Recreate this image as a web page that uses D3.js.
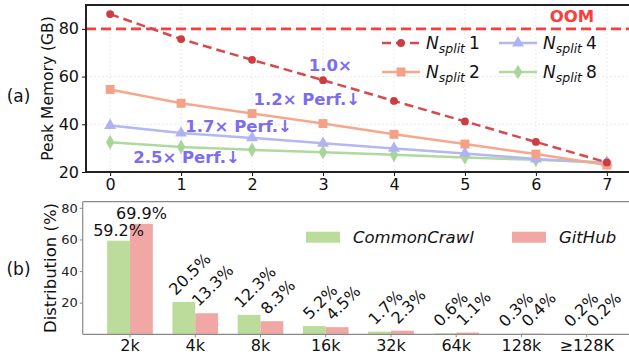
<!DOCTYPE html>
<html>
<head>
<meta charset="utf-8">
<script src="https://cdn.jsdelivr.net/npm/d3@7"></script>
<style>
  body { margin: 0; background: #fff; }
  svg { display: block; font-family: "DejaVu Sans", sans-serif; }
</style>
</head>
<body>
<div id="chart"></div>
<script>
var svgWidth = 629;
var svgHeight = 360;

// (a) peak memory vs. step
var steps = [0, 1, 2, 3, 4, 5, 6, 7];
var nsplit1 = [86.2, 75.7, 67.0, 58.5, 49.8, 41.2, 32.6, 24.0];
var nsplit2 = [54.6, 48.8, 44.5, 40.3, 35.8, 31.7, 27.5, 22.9];
var nsplit4 = [39.5, 36.3, 34.3, 32.0, 29.9, 27.8, 25.4, 23.8];
var nsplit8 = [32.5, 30.5, 29.3, 28.3, 27.2, 26.1, 25.1, 24.0];
var oomLimit = 80;
var memTicks = [20, 40, 60, 80];
var perfLabels = ["1.0×", "1.2× Perf.↓", "1.7× Perf.↓", "2.5× Perf.↓"];

// (b) length distribution
var lengthBins = ["2k", "4k", "8k", "16k", "32k", "64k", "128k", "≥128K"];
var commonCrawl = [59.2, 20.5, 12.3, 5.2, 1.7, 0.6, 0.3, 0.2];
var github = [69.9, 13.3, 8.3, 4.5, 2.3, 1.1, 0.4, 0.2];
var distTicks = [20, 40, 60, 80];

var svg = d3.select("#chart").append("svg")
  .attr("width", svgWidth)
  .attr("height", svgHeight);

// ---------- top panel ----------
var panelA = {left: 86, right: 631, top: 5, bottom: 172};

var x = d3.scaleLinear().domain([-0.34, 7.34]).range([panelA.left, panelA.right]);
var y = d3.scaleLinear().domain([20, 90]).range([panelA.bottom, panelA.top]);

var gTop = svg.append("g");

// grid
gTop.selectAll(".vgrid").data(steps).enter().append("line")
  .attr("x1", d => x(d)).attr("x2", d => x(d))
  .attr("y1", panelA.top).attr("y2", panelA.bottom)
  .attr("stroke", "#e4e4e4").attr("stroke-width", 0.8).attr("stroke-dasharray", "2,2");
gTop.selectAll(".hgrid").data(memTicks).enter().append("line")
  .attr("x1", panelA.left).attr("x2", panelA.right)
  .attr("y1", d => y(d)).attr("y2", d => y(d))
  .attr("stroke", "#e4e4e4").attr("stroke-width", 0.8).attr("stroke-dasharray", "2,2");

// axes
var xAxisTop = gTop.append("g")
  .attr("transform", `translate(0, ${panelA.bottom})`)
  .call(d3.axisBottom(x).tickValues(steps).tickSize(4).tickPadding(3).tickFormat(d3.format("d")));
var yAxisTop = gTop.append("g")
  .attr("transform", `translate(${panelA.left}, 0)`)
  .call(d3.axisLeft(y).tickValues(memTicks).tickSize(4).tickPadding(3));
[xAxisTop, yAxisTop].forEach(function(a) {
  a.select(".domain").remove();
  a.selectAll("text").attr("font-size", "16px").attr("fill", "#111").attr("font-family", "DejaVu Sans");
  a.selectAll("line").attr("stroke", "#111");
});

// OOM line
gTop.append("line")
  .attr("x1", panelA.left).attr("x2", panelA.right)
  .attr("y1", y(oomLimit)).attr("y2", y(oomLimit))
  .attr("stroke", "#ff3b3b").attr("stroke-width", 2.6).attr("stroke-dasharray", "10,5");
gTop.append("text")
  .attr("x", 572).attr("y", 16.5)
  .attr("dominant-baseline", "central").attr("text-anchor", "middle")
  .attr("font-size", "16.5px").attr("font-weight", "bold").attr("fill", "#ff3b3b")
  .text("OOM");

var series = [
  {name: "1", values: nsplit1, color: "#d64a4f", marker: "#cc3d42", shape: d3.symbolCircle, size: 48, dash: "9,5"},
  {name: "2", values: nsplit2, color: "#f6a88e", marker: "#f4a287", shape: d3.symbolSquare, size: 80, dash: null},
  {name: "4", values: nsplit4, color: "#b4b7f2", marker: "#b0b3f1", shape: d3.symbolTriangle, size: 62, dash: null},
  {name: "8", values: nsplit8, color: "#afd99e", marker: "#a9d698", shape: d3.symbolDiamond, size: 62, dash: null}
];

var line = d3.line().x((d, i) => x(steps[i])).y(d => y(d));

series.slice().reverse().forEach(function(s) {
  gTop.append("path")
    .datum(s.values)
    .attr("d", line)
    .attr("fill", "none")
    .attr("stroke", s.color)
    .attr("stroke-width", 2.5)
    .attr("stroke-dasharray", s.dash);
  gTop.selectAll(null).data(s.values).enter().append("path")
    .attr("transform", (d, i) => `translate(${x(steps[i])}, ${y(d)})`)
    .attr("d", d3.symbol().type(s.shape).size(s.size))
    .attr("fill", s.marker);
});

// frame
gTop.append("rect")
  .attr("x", panelA.left).attr("y", panelA.top)
  .attr("width", panelA.right - panelA.left).attr("height", panelA.bottom - panelA.top)
  .attr("fill", "none").attr("stroke", "#222").attr("stroke-width", 2);

// perf annotations
var perfPos = [[2.80, 64.5], [2.02, 50.2], [1.06, 39.0], [0.325, 26.0]];
gTop.selectAll(".perf").data(perfLabels).enter().append("text")
  .attr("x", (d, i) => x(perfPos[i][0]))
  .attr("y", (d, i) => y(perfPos[i][1]))
  .attr("dominant-baseline", "central")
  .attr("font-size", "16.5px").attr("font-weight", "bold")
  .attr("fill", "#7b6cf0")
  .text(d => d);

// legend
var legendItems = [
  {s: series[0], lx: 382, ly: 43},
  {s: series[1], lx: 382, ly: 72},
  {s: series[2], lx: 499, ly: 43},
  {s: series[3], lx: 499, ly: 72}
];
legendItems.forEach(function(it) {
  var g = gTop.append("g");
  g.append("line")
    .attr("x1", it.lx).attr("x2", it.lx + 38)
    .attr("y1", it.ly).attr("y2", it.ly)
    .attr("stroke", it.s.color).attr("stroke-width", 2.5)
    .attr("stroke-dasharray", it.s.dash);
  g.append("path")
    .attr("transform", `translate(${it.lx + 19}, ${it.ly})`)
    .attr("d", d3.symbol().type(it.s.shape).size(it.s.size))
    .attr("fill", it.s.marker);
  var t = g.append("text")
    .attr("x", it.lx + 44).attr("y", it.ly + 6)
    .attr("font-size", "17px").attr("fill", "#111");
  t.append("tspan").attr("font-style", "italic").text("N");
  t.append("tspan").attr("font-style", "italic").attr("font-size", "12.5px").attr("dy", 4).text("split");
  t.append("tspan").attr("dy", -4).attr("dx", 4).text(it.s.name);
});

// ---------- bottom panel ----------
var panelB = {left: 82.7, right: 634, top: 201.7, bottom: 334.3};

var xb = d3.scaleBand().domain(lengthBins).range([panelB.left, panelB.right])
  .paddingInner(0.3).paddingOuter(0.375);
var xs = d3.scaleBand().domain(["cc", "gh"]).range([0, xb.bandwidth()]);
var yb = d3.scaleLinear().domain([0, d3.max(github) * 1.2]).range([panelB.bottom, panelB.top]);

var gBot = svg.append("g");
var barColors = {cc: "#bbdc9a", gh: "#f1a8a4"};

var barData = [];
lengthBins.forEach(function(b, i) {
  barData.push({bin: b, key: "cc", value: commonCrawl[i], idx: i});
  barData.push({bin: b, key: "gh", value: github[i], idx: i});
});

gBot.selectAll(".bar").data(barData).enter().append("rect")
  .attr("x", d => xb(d.bin) + xs(d.key))
  .attr("width", xs.bandwidth())
  .attr("y", d => yb(d.value))
  .attr("height", d => yb(0) - yb(d.value))
  .attr("fill", d => barColors[d.key]);

// axes frame (gray)
gBot.append("line").attr("x1", panelB.left).attr("x2", panelB.right).attr("y1", panelB.top).attr("y2", panelB.top)
  .attr("stroke", "#8a8a8a").attr("stroke-width", 1.2);
gBot.append("line").attr("x1", panelB.left).attr("x2", panelB.right).attr("y1", panelB.bottom).attr("y2", panelB.bottom)
  .attr("stroke", "#8a8a8a").attr("stroke-width", 1.2);
gBot.append("line").attr("x1", panelB.left).attr("x2", panelB.left).attr("y1", panelB.top).attr("y2", panelB.bottom)
  .attr("stroke", "#8a8a8a").attr("stroke-width", 1.2);

var xAxisBot = gBot.append("g")
  .attr("transform", `translate(0, ${panelB.bottom})`)
  .call(d3.axisBottom(xb).tickSize(3).tickPadding(2));
var yAxisBot = gBot.append("g")
  .attr("transform", `translate(${panelB.left}, 0)`)
  .call(d3.axisLeft(yb).tickValues(distTicks).tickSize(3).tickPadding(2));
xAxisBot.select(".domain").remove();
yAxisBot.select(".domain").remove();
xAxisBot.selectAll("text").attr("font-size", "16px").attr("fill", "#111").attr("font-family", "DejaVu Sans");
yAxisBot.selectAll("text").attr("font-size", "13px").attr("fill", "#222").attr("font-family", "DejaVu Sans");
xAxisBot.selectAll("line").attr("stroke", "#8a8a8a");
yAxisBot.selectAll("line").attr("stroke", "#8a8a8a");

// value labels
var fmt = d => d.toFixed(1) + "%";
barData.forEach(function(d) {
  var cx = xb(d.bin) + xs(d.key) + xs.bandwidth() / 2;
  var barTop = yb(d.value);
  var t = gBot.append("text")
    .attr("font-size", "16px").attr("fill", "#111")
    .text(fmt(d.value));
  if (d.idx === 0) {
    t.attr("x", cx).attr("y", barTop - 4.5).attr("text-anchor", "middle");
  } else {
    var L = t.node().getComputedTextLength();
    var half = 0.7071 * (L + 15) / 2;
    var px = cx + 6;
    var py = barTop - 4.5 - half;
    t.attr("x", px).attr("y", py)
      .attr("text-anchor", "middle")
      .attr("dominant-baseline", "central")
      .attr("transform", `rotate(-45, ${px}, ${py})`);
  }
});

// bottom legend
[{key: "cc", label: "CommonCrawl", lx: 306}, {key: "gh", label: "GitHub", lx: 512}].forEach(function(it) {
  gBot.append("rect")
    .attr("x", it.lx).attr("y", 231.7).attr("width", 34).attr("height", 11)
    .attr("fill", barColors[it.key]);
  gBot.append("text")
    .attr("x", it.lx + 47).attr("y", 237.5)
    .attr("dominant-baseline", "central")
    .attr("font-size", "16.5px").attr("font-style", "italic").attr("fill", "#111")
    .text(it.label);
});

// axis titles and panel tags
svg.append("text")
  .attr("transform", `translate(48, ${(panelA.top + panelA.bottom) / 2}) rotate(-90)`)
  .attr("text-anchor", "middle").attr("dominant-baseline", "central")
  .attr("font-size", "15.5px").attr("fill", "#111")
  .text("Peak Memory (GB)");
svg.append("text")
  .attr("transform", `translate(50, ${(panelB.top + panelB.bottom) / 2}) rotate(-90)`)
  .attr("text-anchor", "middle").attr("dominant-baseline", "central")
  .attr("font-size", "16.5px").attr("fill", "#111")
  .text("Distribution (%)");
svg.append("text")
  .attr("x", 18.5).attr("y", 96).attr("text-anchor", "middle").attr("dominant-baseline", "central")
  .attr("font-size", "17px").attr("fill", "#111").text("(a)");
svg.append("text")
  .attr("x", 18.5).attr("y", 269).attr("text-anchor", "middle").attr("dominant-baseline", "central")
  .attr("font-size", "17px").attr("fill", "#111").text("(b)");
</script>
</body>
</html>
